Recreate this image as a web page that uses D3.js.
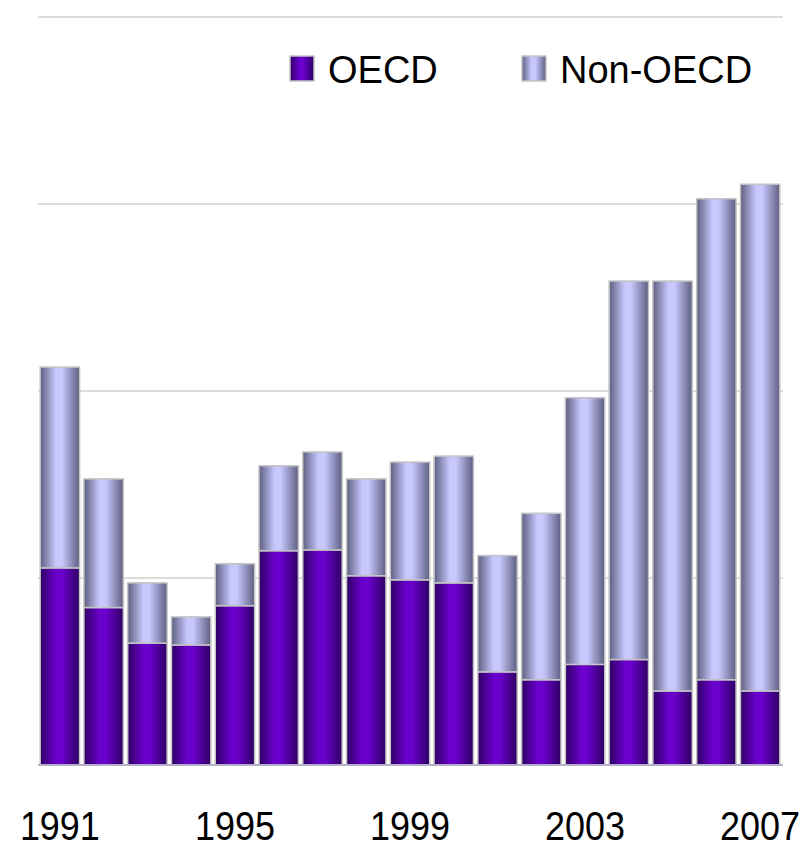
<!DOCTYPE html>
<html>
<head>
<meta charset="utf-8">
<script src="https://cdn.jsdelivr.net/npm/d3@7"></script>
<style>
  body { margin: 0; background: #fff; }
  svg { display: block; font-family: "Liberation Sans", Arial, sans-serif; }
</style>
</head>
<body>
<div id="chart"></div>
<script>
const years = ["1991","1992","1993","1994","1995","1996","1997","1998","1999",
               "2000","2001","2002","2003","2004","2005","2006","2007"];
const oecd    = [52.7, 42.1, 32.6, 32.1, 42.6, 57.3, 57.5, 50.6, 49.5, 48.7, 24.9, 22.8, 26.9, 28.2, 19.8, 22.8, 19.8];
const nonOecd = [53.7, 34.4, 16.1,  7.5, 11.2, 22.7, 26.2, 25.9, 31.5, 33.9, 31.1, 44.5, 71.3, 101.2, 109.6, 128.6, 135.5];
const yTicks = [0, 50, 100, 150, 200];
const yearLabels = ["1991", "1995", "1999", "2003", "2007"];
const seriesNames = ["OECD", "Non-OECD"];

const width = 803,
    height = 843;

const margin = {left: 38, right: 21, top: 17, bottom: 78};

const rows = years.map(function(y, i) {
  return {year: y, "OECD": oecd[i], "Non-OECD": nonOecd[i]};
});

const x = d3.scaleBand()
    .domain(years)
    .range([margin.left, width - margin.right])
    .paddingInner(0.1)
    .paddingOuter(0.05);

const y = d3.scaleLinear()
    .domain([0, 200])
    .range([height - margin.bottom, margin.top]);

const stack = d3.stack().keys(seriesNames);
const layers = stack(rows);

const svg = d3.select("#chart").append("svg")
    .attr("width", width)
    .attr("height", height);

// gradients (dark edges, light middle)
const defs = svg.append("defs");
const grads = {
  "OECD": ["#2e0063", "#6a00cc", "#6a00cc", "#2e0063"],
  "Non-OECD": ["#5e5f80", "#c8c8ff", "#c8c8ff", "#5e5f80"]
};
seriesNames.forEach(function(k, i) {
  const g = defs.append("linearGradient")
      .attr("id", "grad" + i)
      .attr("x1", "0%").attr("x2", "100%")
      .attr("y1", "0%").attr("y2", "0%");
  const c = grads[k];
  g.append("stop").attr("offset", "0%").attr("stop-color", c[0]);
  g.append("stop").attr("offset", "40%").attr("stop-color", c[1]);
  g.append("stop").attr("offset", "55%").attr("stop-color", c[2]);
  g.append("stop").attr("offset", "100%").attr("stop-color", c[3]);
});

// gridlines
svg.append("g")
    .attr("class", "grid")
  .selectAll("line")
    .data(yTicks.slice(1))
  .enter().append("line")
    .attr("x1", margin.left)
    .attr("x2", width - margin.right + 1)
    .attr("y1", function(d) { return y(d); })
    .attr("y2", function(d) { return y(d); })
    .style("stroke", "#d0d0d0")
    .style("stroke-width", 1.5);

// bars
svg.selectAll("g.layer")
    .data(layers)
  .enter().append("g")
    .attr("class", "layer")
    .style("fill", function(d, i) { return "url(#grad" + i + ")"; })
  .selectAll("rect")
    .data(function(d) { return d; })
  .enter().append("rect")
    .attr("x", function(d) { return x(d.data.year); })
    .attr("width", x.bandwidth())
    .attr("y", function(d) { return y(d[1]); })
    .attr("height", function(d) { return y(d[0]) - y(d[1]); })
    .style("stroke", "#c4c4c4")
    .style("stroke-width", 1.5);

// baseline
svg.append("line")
    .attr("x1", margin.left)
    .attr("x2", width - margin.right + 1)
    .attr("y1", y(0))
    .attr("y2", y(0))
    .style("stroke", "#b8b0c8")
    .style("stroke-width", 2);

// year labels (tall, narrow digits like the original)
svg.append("g")
  .selectAll("text")
    .data(yearLabels)
  .enter().append("text")
    .attr("x", function(d) { return x(d) + x.bandwidth() / 2; })
    .attr("y", 840)
    .attr("text-anchor", "middle")
    .attr("textLength", 80)
    .attr("lengthAdjust", "spacingAndGlyphs")
    .style("font-size", "41px")
    .style("fill", "#000")
    .text(function(d) { return d; });

// legend
const legendX = [290, 522];
const legend = svg.append("g")
  .selectAll("g")
    .data(seriesNames)
  .enter().append("g")
    .attr("transform", function(d, i) { return "translate(" + legendX[i] + ",56)"; });

legend.append("rect")
    .attr("width", 24)
    .attr("height", 25)
    .style("fill", function(d, i) { return "url(#grad" + i + ")"; })
    .style("stroke", "#c4c4c4")
    .style("stroke-width", 1.5);

legend.append("text")
    .attr("x", 38)
    .attr("y", 26.5)
    .style("font-size", "38px")
    .style("fill", "#000")
    .text(function(d) { return d; });
</script>
</body>
</html>
